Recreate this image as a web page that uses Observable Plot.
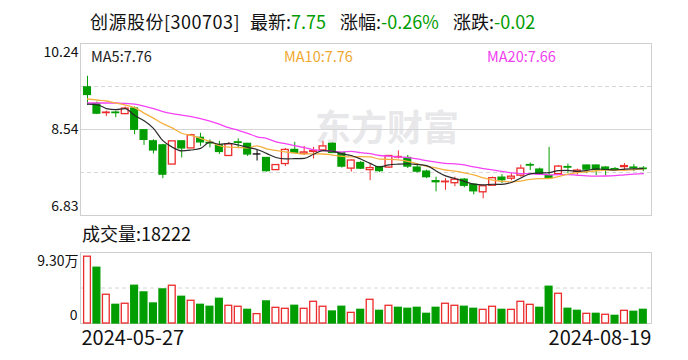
<!DOCTYPE html>
<html><head><meta charset="utf-8">
<script src="https://cdn.jsdelivr.net/npm/d3@7"></script>
<script src="https://cdn.jsdelivr.net/npm/@observablehq/plot@0.6"></script>
<style>
body{margin:0;background:#fff;}
#wrap{position:relative;width:688px;height:360px;overflow:hidden;font-family:"Noto Sans CJK SC","Liberation Sans",sans-serif;background:#fff;}
.abs{position:absolute;white-space:nowrap;line-height:1;}
#p1,#p2{position:absolute;left:0;}
#p1{top:0;} #p2{top:240px;}
</style></head><body><div id="wrap"><div id="p1"></div><div id="p2"></div></div>
<script>
const stockName = "创源股份";
const stockCode = "300703";
const dates = [
"2024-05-27","2024-05-28","2024-05-29","2024-05-30","2024-05-31",
"2024-06-03","2024-06-04","2024-06-05","2024-06-06","2024-06-07",
"2024-06-11","2024-06-12","2024-06-13","2024-06-14",
"2024-06-17","2024-06-18","2024-06-19","2024-06-20","2024-06-21",
"2024-06-24","2024-06-25","2024-06-26","2024-06-27","2024-06-28",
"2024-07-01","2024-07-02","2024-07-03","2024-07-04","2024-07-05",
"2024-07-08","2024-07-09","2024-07-10","2024-07-11","2024-07-12",
"2024-07-15","2024-07-16","2024-07-17","2024-07-18","2024-07-19",
"2024-07-22","2024-07-23","2024-07-24","2024-07-25","2024-07-26",
"2024-07-29","2024-07-30","2024-07-31","2024-08-01","2024-08-02",
"2024-08-05","2024-08-06","2024-08-07","2024-08-08","2024-08-09",
"2024-08-12","2024-08-13","2024-08-14","2024-08-15","2024-08-16",
"2024-08-19"];
const open  = [9.37,9.04,8.86,8.87,8.84,8.95,8.52,8.30,8.22,7.84, 8.30,8.16,8.37,8.27,8.22,8.01,8.28,8.25,8.05,7.97, 7.73,7.85,8.13,8.05,8.09,8.12,8.25,8.07,7.76,7.87, 7.73,7.79,7.78,7.98,7.97,7.78,7.70,7.51,7.49,7.47, 7.54,7.44,7.29,7.42,7.58,7.56,7.62,7.83,7.74,7.61, 7.65,7.79,7.69,7.82,7.82,7.78,7.75,7.79,7.78,7.76];
const high  = [9.59,9.08,8.90,8.90,8.98,8.98,8.53,8.33,8.24,8.30, 8.30,8.44,8.46,8.33,8.30,8.28,8.35,8.26,8.13,7.97, 7.84,8.16,8.28,8.20,8.18,8.30,8.27,8.08,7.93,7.90, 7.85,7.80,8.02,8.11,8.02,7.85,7.73,7.59,7.56,7.59, 7.56,7.46,7.43,7.59,7.64,7.66,7.83,7.87,7.77,8.18, 7.82,7.85,7.75,7.83,7.83,7.80,7.78,7.86,7.84,7.80];
const low   = [9.01,8.83,8.79,8.77,8.83,8.43,8.22,8.05,7.56,7.84, 7.97,8.16,8.20,8.17,8.04,8.01,8.17,8.00,7.91,7.69, 7.72,7.80,8.06,8.02,7.95,8.11,8.06,7.77,7.69,7.74, 7.52,7.68,7.77,7.95,7.76,7.67,7.56,7.30,7.33,7.40, 7.38,7.24,7.16,7.41,7.46,7.52,7.59,7.72,7.64,7.56, 7.64,7.66,7.63,7.66,7.62,7.62,7.70,7.72,7.70,7.70];
const close = [9.22,8.85,8.87,8.86,8.95,8.53,8.33,8.12,7.64,8.30, 8.16,8.42,8.28,8.26,8.09,8.24,8.27,8.04,8.05,7.71, 7.83,8.13,8.07,8.08,8.11,8.20,8.07,7.80,7.92,7.76, 7.77,7.71,8.01,7.99,7.80,7.70,7.59,7.49,7.50,7.54, 7.42,7.31,7.41,7.57,7.53,7.60,7.76,7.82,7.65,7.57, 7.80,7.78,7.72,7.74,7.73,7.74,7.73,7.81,7.77,7.75];
const volume = [89000,74300,38300,24900,26300,50300,41400,26700,45400,50300, 35600,30300,24900,22300,32900,23600,22300,18200,12500,29400, 20900,19600,23600,19600,28900,22300,16000,22300,14200,18200, 31600,16900,23600,20900,19600,20900,12900,20900,26300,23600, 22300,19600,18200,22300,18200,18200,28900,24900,20900,49000, 39600,19600,16900,12900,12900,11600,10200,16900,15600,18222];
const prevClose = 9.00;            // close before the first day (estimated)
const ma5Head  = [9.04,9.03,8.95,8.93];
const ma10Head = [9.14,9.12,9.10,9.06,9.02,8.97,8.86,8.76,8.65];
const ma20Head = [9.06,9.06,9.06,9.06,9.05,9.04,9.00,8.95,8.89,8.85,8.82,8.79,8.75,8.70,8.64,8.57,8.52,8.46,8.39];
const priceTicks = [6.83, 8.54, 10.24];
const volTickMax = 93000;

const RED = "#ec2b2b", GREEN = "#009d00";
const MA5C = "#2a2a2a", MA10C = "#f5b041", MA20C = "#f542f5";

const data = dates.map((d, i) => ({i, date: d, o: open[i], h: high[i], l: low[i], c: close[i], v: volume[i], pc: i ? close[i-1] : prevClose}));
const dir = d => d.c > d.o ? "up" : d.c < d.o ? "down" : "flat";
const candleColor = d => ({up: RED, down: GREEN, flat: "#000"})[dir(d)];
const volUp = d => d.c >= d.pc;

function ma(n, head) {
  return close.map((c, i) => i < n - 1 ? head[i] : d3.mean(close.slice(i - n + 1, i + 1)));
}
const ma5 = ma(5, ma5Head), ma10 = ma(10, ma10Head), ma20 = ma(20, ma20Head);
const maData = (arr) => arr.map((v, i) => ({i, v}));

const xDomain = [-0.743, 59.87];
const yMin = priceTicks[0], yMax = priceTicks[2];
const span = yMax - yMin;
const hw = 0.36;

const p1 = Plot.plot({
  width: 688, height: 220, marginLeft: 80, marginRight: 37, marginTop: 43, marginBottom: 5,
  style: {fontFamily: '"Noto Sans CJK SC", sans-serif', background: "transparent"},
  x: {type: "linear", domain: xDomain, axis: null, label: null},
  y: {domain: [yMin, yMax], axis: null, label: null},
  marks: [
    Plot.text(["东方财富"], {frameAnchor: "middle", dx: 21, dy: 0, fill: "#e8e8eb", fontSize: 36, fontWeight: "bold"}),
    Plot.ruleY([yMin + span / 2], {stroke: "#d6d6d6"}),
    Plot.ruleY([yMin + span * 0.25, yMin + span * 0.75], {stroke: "#d6d6d6", strokeDasharray: "4,3"}),
    Plot.frame({stroke: "#cfcfcf"}),
    Plot.axisY([priceTicks[2]], {label: null, tickSize: 0, tickPadding: 2, dy: 9.5, fontSize: 14, fill: "#111", tickFormat: d => d.toFixed(2)}),
    Plot.axisY([priceTicks[1]], {label: null, tickSize: 0, tickPadding: 2, dy: 0, fontSize: 14, fill: "#111", tickFormat: d => d.toFixed(2)}),
    Plot.axisY([priceTicks[0]], {label: null, tickSize: 0, tickPadding: 2, dy: -9, fontSize: 14, fill: "#111", tickFormat: d => d.toFixed(2)}),
    Plot.ruleX(data, {x: "i", y1: "l", y2: "h", stroke: candleColor, strokeWidth: 1}),
    Plot.rect(data.filter(d => d.o !== d.c), {x1: d => d.i - hw, x2: d => d.i + hw, y1: "o", y2: "c",
      fill: d => dir(d) === "down" ? GREEN : "#fff", stroke: candleColor, strokeWidth: 1.3}),
    Plot.ruleY(data.filter(d => d.o === d.c), {y: "c", x1: d => d.i - hw - 0.05, x2: d => d.i + hw + 0.05, stroke: candleColor, strokeWidth: 1.3}),
    Plot.line(maData(ma20), {x: "i", y: "v", stroke: MA20C, strokeWidth: 1.3, curve: "monotone-x"}),
    Plot.line(maData(ma10), {x: "i", y: "v", stroke: MA10C, strokeWidth: 1.3, curve: "monotone-x"}),
    Plot.line(maData(ma5), {x: "i", y: "v", stroke: MA5C, strokeWidth: 1.2, curve: "monotone-x"})
  ]
});
document.getElementById("p1").appendChild(p1);

const volTop = 94600;
const p2 = Plot.plot({
  width: 688, height: 120, marginLeft: 80, marginRight: 37, marginTop: 12, marginBottom: 37,
  style: {fontFamily: '"Noto Sans CJK SC", sans-serif', background: "transparent"},
  x: {type: "linear", domain: xDomain, axis: null, label: null},
  y: {domain: [0, volTop], axis: null, label: null},
  marks: [
    Plot.ruleY([volTop / 2], {stroke: "#d6d6d6", strokeDasharray: "4,3"}),
    Plot.frame({stroke: "#cfcfcf"}),
    Plot.rect(data, {x1: d => d.i - hw, x2: d => d.i + hw, y1: 0, y2: "v",
      fill: d => volUp(d) ? "#fff" : GREEN, stroke: d => volUp(d) ? RED : GREEN, strokeWidth: 1.3}),
    Plot.axisY([volTickMax], {label: null, tickSize: 0, tickPadding: 2, dy: 8, fontSize: 14, fill: "#111", tickFormat: d => (d / 10000).toFixed(2) + "万"}),
    Plot.axisY([0], {label: null, tickSize: 0, tickPadding: 3, dy: -8, fontSize: 14, fill: "#111", tickFormat: d => String(d)}),
    Plot.axisX([0], {label: null, tickSize: 0, tickPadding: 7, dx: -6, textAnchor: "start", fontSize: 20, fill: "#111", tickFormat: i => dates[i]}),
    Plot.axisX([dates.length - 1], {label: null, tickSize: 0, tickPadding: 7, dx: 8, textAnchor: "end", fontSize: 20, fill: "#111", tickFormat: i => dates[i]})
  ]
});
document.getElementById("p2").appendChild(p2);

const wrap = document.getElementById("wrap");
function addText(txt, left, top, size, color, extra) {
  const el = document.createElement("div");
  el.className = "abs";
  el.textContent = txt;
  el.style.left = left + "px"; el.style.top = top + "px";
  el.style.fontSize = size + "px"; el.style.color = color;
  if (extra) Object.assign(el.style, extra);
  wrap.appendChild(el);
  return el;
}
function addPair(label, value, left, top, size, vcolor) {
  const el = document.createElement("div");
  el.className = "abs";
  el.style.left = left + "px"; el.style.top = top + "px"; el.style.fontSize = size + "px";
  const a = document.createElement("span"); a.textContent = label; a.style.color = "#111";
  const b = document.createElement("span"); b.textContent = value; b.style.color = vcolor;
  el.appendChild(a); el.appendChild(b);
  wrap.appendChild(el);
}
const last = close[close.length - 1], prev = close[close.length - 2];
const chg = last - prev, pct = chg / prev * 100;
const chgColor = chg < 0 ? GREEN : chg > 0 ? RED : "#111";
addText(`${stockName}[${stockCode}]`, 90, 12, 18, "#111", {letterSpacing: "0.5px"});
addPair("最新:", last.toFixed(2), 250, 12, 18, chgColor);
addPair("涨幅:", (chg > 0 ? "+" : "") + pct.toFixed(2) + "%", 340, 12, 18, chgColor);
addPair("涨跌:", (chg > 0 ? "+" : "") + chg.toFixed(2), 453, 12, 18, chgColor);

addText("MA5:" + ma5[ma5.length - 1].toFixed(2), 91, 49, 14.5, "#222");
addText("MA10:" + ma10[ma10.length - 1].toFixed(2), 284, 49, 14.5, "#f0a830");
addText("MA20:" + ma20[ma20.length - 1].toFixed(2), 487, 49, 14.5, "#f040f0");
addText("成交量:" + volume[volume.length - 1], 82, 224, 18, "#111");
</script></body></html>
